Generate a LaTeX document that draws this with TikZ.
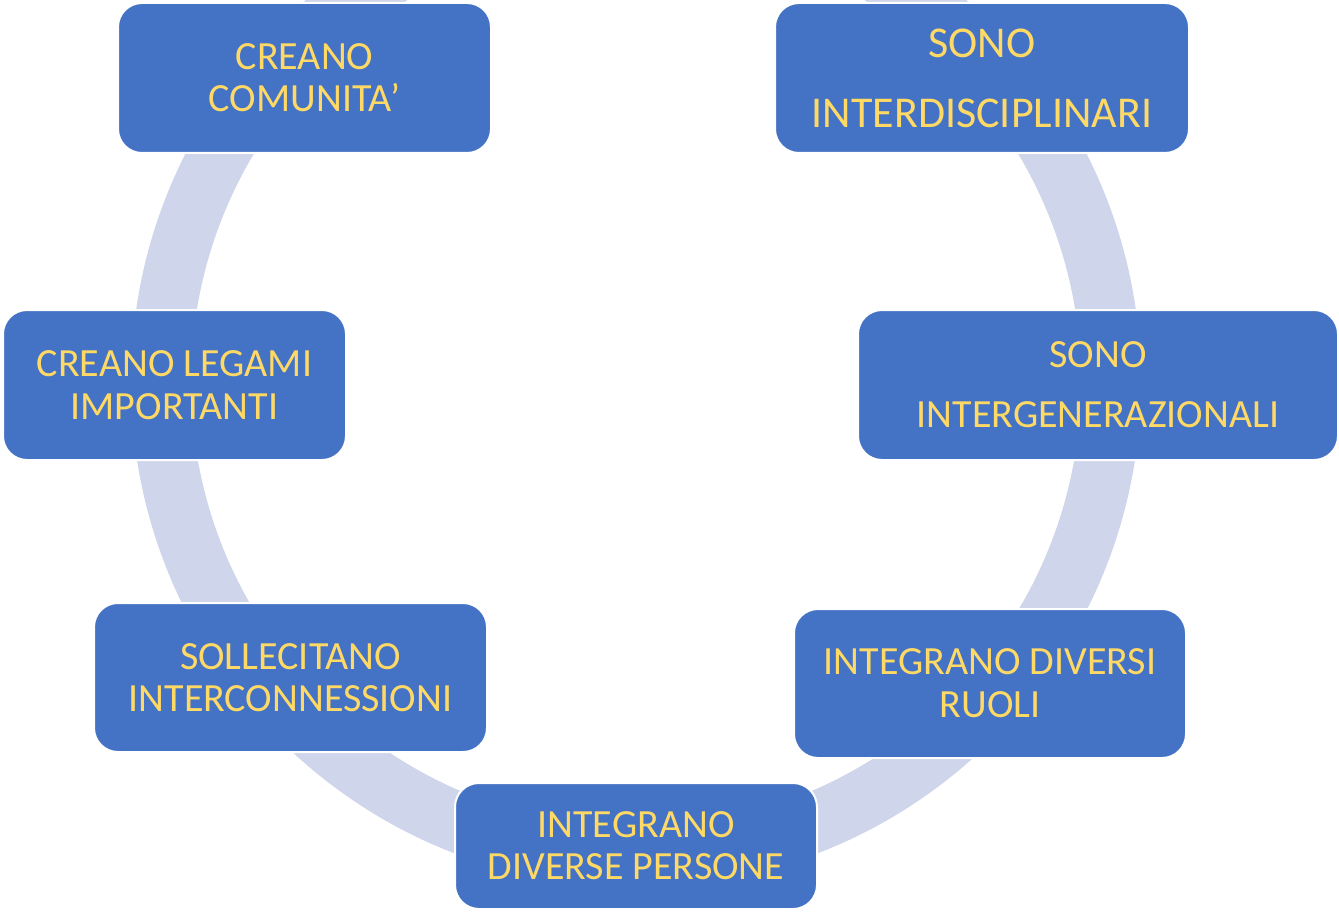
\documentclass[tikz,border=0pt]{standalone}
\usepackage{fontspec}
\setmainfont{Carlito}
\definecolor{boxblue}{HTML}{4472C4}
\definecolor{txtyellow}{HTML}{FFD966}
\definecolor{ringcol}{HTML}{CFD5EA}
\tikzset{
  cyclebox/.style={rectangle, rounded corners=24pt, fill=boxblue, draw=white, line width=2pt,
    text=txtyellow, align=center, inner sep=0pt},
  ringband/.style={draw=ringcol, line width=60pt}
}
\begin{document}
\begin{tikzpicture}[x=1pt,y=-1pt]
\useasboundingbox (0,0) rectangle (1339,912);
\coordinate (ringc) at (636,382);
\begin{scope}
\clip (0,0) rectangle (1339,912);
\draw[ringband] (ringc) circle[radius=475pt];
\end{scope}
\node[cyclebox, minimum width=373pt, minimum height=150pt, font=\fontsize{40}{42}\selectfont] (b1) at (304.5,78) {CREANO\\COMUNITA’};
\node[cyclebox, minimum width=414pt, minimum height=150pt, font=\fontsize{44}{70}\selectfont] (b2) at (982,78) {SONO\\INTERDISCIPLINARI};
\node[cyclebox, minimum width=343pt, minimum height=150pt, font=\fontsize{40}{43}\selectfont] (b3) at (174.5,385) {CREANO LEGAMI\\IMPORTANTI};
\node[cyclebox, minimum width=480pt, minimum height=150pt, font=\fontsize{40}{60}\selectfont] (b4) at (1098,385) {SONO\\INTERGENERAZIONALI};
\node[cyclebox, minimum width=393pt, minimum height=149pt, font=\fontsize{40}{42}\selectfont] (b5) at (290.5,677.5) {SOLLECITANO\\INTERCONNESSIONI};
\node[cyclebox, minimum width=392pt, minimum height=149pt, font=\fontsize{40}{43}\selectfont] (b6) at (990,683.5) {INTEGRANO DIVERSI\\RUOLI};
\node[cyclebox, minimum width=362pt, minimum height=126pt, font=\fontsize{40}{42}\selectfont] (b7) at (636,846) {INTEGRANO\\DIVERSE PERSONE};
\end{tikzpicture}
\end{document}
